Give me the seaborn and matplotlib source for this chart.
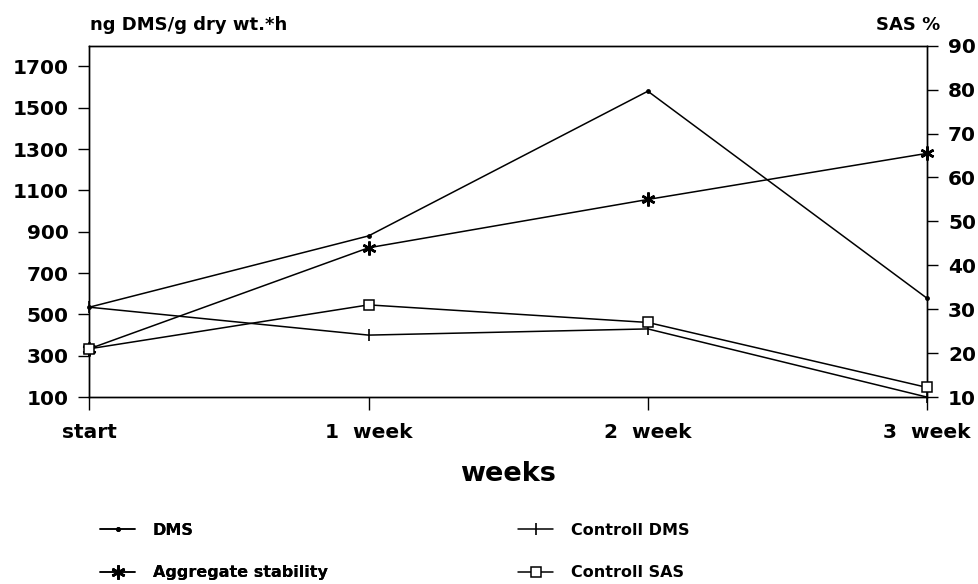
import pandas as pd
import matplotlib
matplotlib.use('Agg')
import matplotlib.pyplot as plt
import seaborn as sns
from matplotlib.lines import Line2D

# --- values ---
weeks = ['start', '1  week', '2  week', '3  week']
dms = [535, 880, 1580, 578]
controll_dms = [535, 400, 430, 100]
aggregate = [21, 44, 55, 65.5]
controll_sas = [21, 31, 27, 12.2]

left_ticks = [100, 300, 500, 700, 900, 1100, 1300, 1500, 1700]
right_ticks = [10, 20, 30, 40, 50, 60, 70, 80, 90]

df = pd.DataFrame({'pos': range(len(weeks)), 'DMS': dms, 'Controll DMS': controll_dms,
                   'Aggregate stability': aggregate, 'Controll SAS': controll_sas})

sns.set_style('ticks')
plt.rcParams['font.family'] = ['DejaVu Sans']
plt.rcParams['font.weight'] = 'bold'
plt.rcParams['text.color'] = 'black'
plt.rcParams['xtick.color'] = 'black'
plt.rcParams['ytick.color'] = 'black'
plt.rcParams['axes.labelcolor'] = 'black'

fig, ax = plt.subplots(figsize=(9.79, 5.84), dpi=100)
fig.subplots_adjust(left=0.0912, right=0.947, top=0.9217, bottom=0.320)
ax2 = ax.twinx()

lw = 1.1
# marker styles
st_dms = dict(marker='o', markersize=3.5, markeredgewidth=0)
st_cdms = dict(marker='|', markersize=9, markeredgewidth=1.2, markeredgecolor='black')
st_agg = dict(marker=(6, 2, 0), markersize=10, markeredgewidth=1.8, markeredgecolor='black')
st_csas = dict(marker='s', markersize=7.5, markerfacecolor='white', markeredgecolor='black',
               markeredgewidth=1.1)

# left axis series
sns.lineplot(data=df, x='pos', y='DMS', ax=ax, color='black', lw=lw, clip_on=False, **st_dms)
sns.lineplot(data=df, x='pos', y='Controll DMS', ax=ax, color='black', lw=lw, clip_on=False,
             **st_cdms)
# right axis series
sns.lineplot(data=df, x='pos', y='Aggregate stability', ax=ax2, color='black', lw=lw,
             clip_on=False, **st_agg)
sns.lineplot(data=df, x='pos', y='Controll SAS', ax=ax2, color='black', lw=lw, clip_on=False,
             zorder=5, **st_csas)

ax.set_xlim(0, 3)
ax.set_ylim(100, 1800)
ax2.set_ylim(10, 90)
ax.set_xticks(range(len(weeks)))
ax.set_xticklabels(weeks)
ax.set_yticks(left_ticks)
ax2.set_yticks(right_ticks)
ax.set_xlabel('')
ax.set_ylabel('')
ax2.set_ylabel('')

for a in (ax, ax2):
    for s in a.spines.values():
        s.set_visible(True)
        s.set_linewidth(1.0)
        s.set_color('black')
ax.tick_params(axis='y', direction='out', length=8, width=1, pad=7, labelsize=14.5)
ax2.tick_params(axis='y', direction='out', length=8, width=1, pad=7, labelsize=14.5)
ax.tick_params(axis='x', direction='out', length=9, width=1, pad=9.5, labelsize=14.5)
for lab in ax.get_xticklabels() + ax.get_yticklabels() + ax2.get_yticklabels():
    lab.set_fontweight('bold')

# axis titles
fig.text(90 / 979, 1 - 30 / 584, 'ng DMS/g dry wt.*h', fontsize=13, fontweight='bold',
         ha='left', va='baseline')
fig.text(940 / 979, 1 - 30 / 584, 'SAS %', fontsize=13, fontweight='bold',
         ha='right', va='baseline')
fig.text(508 / 979, 1 - 474 / 584, 'weeks', fontsize=19.5, fontweight='bold',
         ha='center', va='center')

# legend in two columns
h_dms = Line2D([], [], color='black', lw=lw, **st_dms)
h_agg = Line2D([], [], color='black', lw=lw, **st_agg)
h_cdms = Line2D([], [], color='black', lw=lw, **st_cdms)
h_csas = Line2D([], [], color='black', lw=lw, **st_csas)
leg_kw = dict(frameon=False, handlelength=2.2, handletextpad=1.1,
              labelspacing=1.7, borderpad=0, borderaxespad=0, loc='upper left',
              prop={'weight': 'bold', 'size': 11.5})
leg1 = fig.legend([h_dms, h_agg], ['DMS', 'Aggregate stability'],
                  bbox_to_anchor=(100 / 979, 1 - 523 / 584), **leg_kw)
fig.add_artist(leg1)
fig.legend([h_cdms, h_csas], ['Controll DMS', 'Controll SAS'],
           bbox_to_anchor=(518 / 979, 1 - 523 / 584), **leg_kw)

fig.savefig('out.png', dpi=100)
